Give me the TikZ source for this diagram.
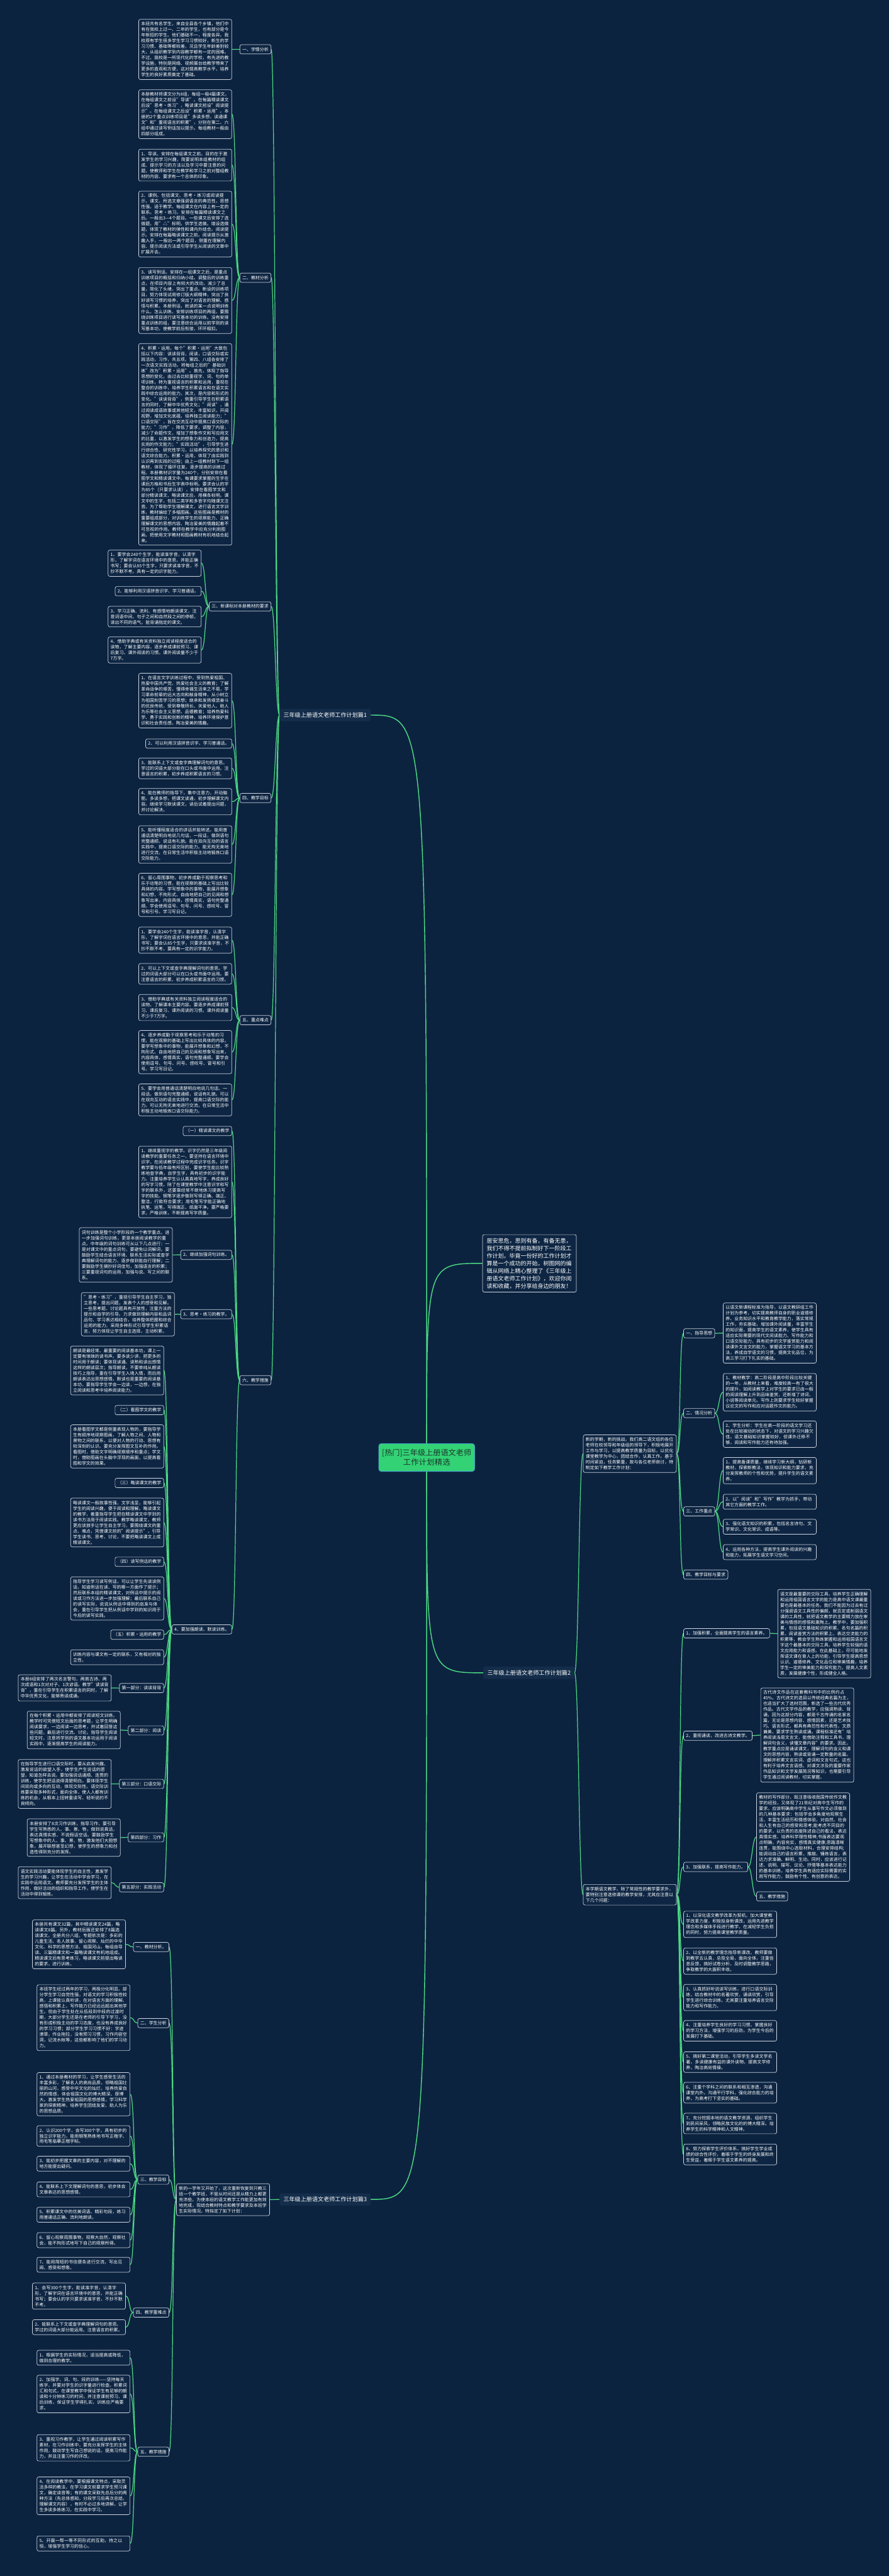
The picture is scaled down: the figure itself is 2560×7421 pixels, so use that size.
\documentclass[tikz,border=0pt]{standalone}
\usepackage{fontspec}
\setmainfont{Noto Sans CJK SC}
\XeTeXlinebreaklocale "zh"
\XeTeXlinebreakskip=0pt plus 0.5pt
\usetikzlibrary{calc}
\definecolor{bgc}{RGB}{12,35,64}
\definecolor{boxf}{RGB}{14,38,67}
\definecolor{topf}{RGB}{20,45,74}
\definecolor{bord}{RGB}{205,212,222}
\definecolor{lg}{RGB}{76,217,130}
\definecolor{ctrf}{RGB}{50,210,117}
\definecolor{ctrb}{RGB}{70,160,200}
\definecolor{ctrt}{RGB}{28,52,42}
\newcommand\bfnt{\fontsize{12.6pt}{16.3pt}\selectfont}
\newcommand\introfnt{\fontsize{16.3pt}{21.7pt}\selectfont}
\newcommand\topfnt{\fontsize{16.5pt}{20pt}\selectfont}
\newcommand\ctrfnt{\fontsize{22pt}{28pt}\selectfont}
\newcommand\lnk[2]{\draw[link] (#1.west) .. controls +(-12,0) and +(12,0) .. (#2.east);}
\newcommand\rnk[2]{\draw[link] (#1.east) .. controls +(12,0) and +(-12,0) .. (#2.west);}
\pgfdeclarelayer{bg}
\pgfsetlayers{bg,main}
\begin{document}
\begin{tikzpicture}[x=1pt,y=-1pt,
 blk/.style={draw=bord, fill=boxf, rounded corners=5pt, line width=1.3pt, text=white, font=\bfnt, text width=254pt, align=left, inner xsep=7pt, inner ysep=7.5pt},
 lbl/.style={draw=bord, fill=boxf, rounded corners=5pt, line width=1.3pt, text=white, font=\bfnt, inner xsep=7pt, inner ysep=7.5pt},
 toplbl/.style={fill=topf, rounded corners=5pt, text=white, font=\topfnt, inner xsep=11pt, inner ysep=10pt},
 link/.style={draw=lg, line width=2.2pt},
 clink/.style={draw=lg, line width=2.6pt},
 aNE/.style={anchor=north east}, aNW/.style={anchor=north west}]
\begin{pgfonlayer}{bg}
\fill[bgc] (0,0) rectangle (2560,7421);
\end{pgfonlayer}
\useasboundingbox (0,0) rectangle (2560,7421);

% ===== center =====
\node[fill=ctrf, draw=ctrb, line width=1.5pt, rounded corners=7pt, text=ctrt, font=\ctrfnt, text width=266pt, align=center, inner xsep=5pt, minimum height=80pt, anchor=north west] (C) at (1090,4158) {[热门]三年级上册语文老师\\工作计划精选};

\node[blk, aNW, font=\introfnt, text width=246pt, inner xsep=12pt, inner ysep=10pt] (I) at (1389,3556) {居安思危，思则有备，有备无患，我们不得不提前拟制好下一阶段工作计划。毕竟一份好的工作计划才算是一个成功的开始，树图网的编辑从网络上精心整理了《三年级上册语文老师工作计划》，欢迎你阅读和收藏，并分享给身边的朋友！};

\node[toplbl, anchor=west] (T1) at (805,2060) {三年级上册语文老师工作计划篇1};
\node[toplbl, anchor=west] (T2) at (1392,4819) {三年级上册语文老师工作计划篇2};
\node[toplbl, anchor=west] (T3) at (805,6336) {三年级上册语文老师工作计划篇3};

% ===== 篇1 =====
\node[lbl, aNE] (L1) at (781,128) {一、学情分析};
\node[blk, aNE] (b11) at (668,55) {本班共有名学生，来自全县各个乡镇，他们中有在我校上过一、二年的学生，也有部分是今年新招的学生。他们基础不一，程度各异。我校原有学生很多学生学习习惯较好，新生的学习习惯、基础等都较差，况且学生年龄差别较大，从组织教学到内容教学都有一定的困难。不过，我校是一所现代化的学校，有先进的教学设施，特别是网络、视频展台给教学带来了更多的直观和方便，这对提高教学水平，培养学生的良好素质奠定了基础。};

\node[lbl, aNE] (L2) at (781,786) {二、教材分析};
\node[blk, aNE] (b21) at (668,258) {本册教材将课文分为8组，每组一般4篇课文。在每组课文之前设"导读"。在每篇精读课文后设"思考·练习"，略读课文前设"阅读提示"。在每组课文之后设"积累·运用"。本册的2个重点训练项目是"多读多想，读通课文"和"重视语言的积累"，分别在第二、六组中通过读写例话加以提示。每组教材一般由四部分组成。};
\node[blk, aNE] (b22) at (668,429) {1、导读。安排在每组课文之前。目的在于激发学生的学习兴趣，简要说明本组教材的组成、提示学习的方法以及学习中要注意的问题，使教师和学生在教学和学习之前对整组教材的内容、要求有一个总体的印象。};
\node[blk, aNE] (b23) at (668,550) {2、课例。包括课文、思考·练习或阅读提示，课文。所选文章强调语言的典范性，思想性强，适于教学。每组课文在内容上有一定的联系。思考·练习。安排在每篇精读课文之后。一般出3—4个题目。一些课文后安排了选做题，用"△"标明，供学生选做。增设选做题，体现了教材的弹性和课内外结合。阅读提示。安排在每篇略读课文之前。阅读提示从激趣入手，一般出一两个题目，侧重在理解内容、提示阅读方法或引导学生从阅读的文章中扩展开去。};
\node[blk, aNE] (b24) at (668,770) {3、读写例话。安排在一组课文之后，是重点训练项目的概括和归纳小结。调整后的训练重点，在项目内容上有较大的改动，减少了总量，简化了头绪，突出了重点。新设的训练项目，努力体现试用修订版大纲精神，突出了良好读写习惯的培养，突出了对语言的理解、感悟与积累。本册例话，就读的某一点说明训练什么，怎么训练。安排训练项目的两组，要围绕训练项目进行读写基本功的训练。没有安排重点训练的组，要注意综合运用以前学到的读写基本功，使教学前后衔接，环环相扣。};
\node[blk, aNE] (b25) at (668,989) {4、积累·运用。每个"积累·运用"大致包括以下内容：读读背背，阅读，口语交际或实践活动，习作，共五项。第四、八组各安排了一次语文实践活动。将每组之后的"基础训练"改为"积累·运用"。首先，体现了指导思想的变化，由过去比较重视字、词、句的单项训练，转为重视语言的积累和运用，重视在整合的训练中，培养学生积累语言和在语文实践中综合运用的能力。其次，是内容和形式的变化。"读读背背"，侧重引导学生在积累语言的同时，了解中华优秀文化；"阅读"，通过阅读成语故事或其他短文，丰富知识，开阔视野，增加文化底蕴，培养独立阅读能力；"口语交际"，旨在交流互动中提高口语交际的能力；"习作"，降低了要求，调整了内容，减少了命题作文，增加了想象作文和写应用文的比重，以激发学生的想象力和创造力，提高实用的作文能力；"实践活动"，引导学生进行综合性、研究性学习，以培养探究的意识和语文综合能力。积累·运用，体现了由实践到认识再到实践的过程；由上一组教材到下一组教材，体现了循环往复、逐步提高的训练过程。本册教材识字量为240个，分别安排在看图学文和精读课文中。每课要求掌握的生字在课后方格和书后生字表中标明。要求会认的字为85个（只要求认读），安排在看图学文和部分精读课文、略读课文后，用横条标明。课文中的生字，包括二类字和多音字均随课文注音。为了帮助学生理解课文，进行语言文字训练，教材编绘了多幅图画。这些图画是教材的重要组成部分，对训练学生的观察能力、正确理解课文的思想内容、陶冶爱美的情趣起着不可忽视的作用。教师在教学中应充分利用图画，把使用文字教材和图画教材有机地结合起来。};

\node[lbl, aNE] (L3) at (781,1733) {三、新课标对本册教材的要求};
\node[blk, aNE] (b31) at (580,1584) {1、要学会240个生字，能读准字音，认清字形，了解字词在语言环境中的意思，并能正确书写；要会认85个生字，只要求读准字音，不抄不默不考。具有一定的识字能力。};
\node[lbl, aNE] (b32) at (580,1689) {2、能够利用汉语拼音识字、学习普通话。};
\node[blk, aNE] (b33) at (580,1746) {3、学习正确、流利、有感情地朗读课文，注意词语中间、句子之间和自然段之间的停顿，读出不同的语气。能背诵指定的课文。};
\node[blk, aNE] (b34) at (580,1834) {4、借助字典或有关资料独立阅读程度适合的读物，了解主要内容。逐步养成课前预习、课后复习、课外阅读的习惯。课外阅读量不少于7万字。};

\node[lbl, aNE] (L4) at (781,2285) {四、教学目标};
\node[blk, aNE] (b41) at (668,1939) {1、在语言文字训练过程中，受到热爱祖国、热爱中国共产党、热爱社会主义的教育；了解革命战争的艰苦，懂得幸福生活来之不易，学习革命前辈的远大志向和献身精神，从小树立为祖国刻苦学习的思想；继承和发扬艰苦奋斗的优良传统，受到尊敬师长、关爱他人、助人为乐等社会主义思想、品德教育；培养热爱科学、勇于实践和创新的精神，培养环境保护意识和社会责任感，陶冶爱美的情趣。};
\node[lbl, aNE] (b42) at (668,2128) {2、可以利用汉语拼音识字、学习普通话。};
\node[blk, aNE] (b43) at (668,2183) {3、能联系上下文或查字典理解词句的意思。学过的词语大部分能在口头或书面中运用。注意语言的积累，初步养成积累语言的习惯。};
\node[blk, aNE] (b44) at (668,2271) {4、能在教师的指导下，集中注意力，开动脑筋，多读多想，把课文读通，初步理解课文内容。继续学习默读课文，读后试着提出问题，并讨论解决。};
\node[blk, aNE] (b45) at (668,2378) {5、能听懂程度适合的讲话并能转述。能用普通话清楚明白地说几句话、一段话，做到语句完整通顺，说话有礼貌。能在双向互动的语言实践中，提高口语交际的能力。能无拘无束地进行交流，在日常生活中积极主动地锻炼口语交际能力。};
\node[blk, aNE] (b46) at (668,2515) {6、留心周围事物，初步养成勤于观察思考和乐于动笔的习惯，能在观察的基础上写出比较具体的内容。学写想象中的事物，能展开想象和幻想，不拘形式、自由地把自己的见闻和想象写出来，内容具体，感情真实，语句完整通顺。学会使用逗号、句号、问号、感叹号、冒号和引号。学习写日记。};

\node[lbl, aNE] (L5) at (781,2925) {五、重点难点};
\node[blk, aNE] (b51) at (668,2670) {1、要学会240个生字，能读准字音，认清字形，了解字词在语言环境中的意思，并能正确书写；要会认85个生字，只要求读准字音，不抄不默不考。要具有一定的识字能力。};
\node[blk, aNE] (b52) at (668,2775) {2、可以上下文或查字典理解词句的意思。学过的词语大部分可以在口头或书面中运用。要注意语言的积累，初步养成积累语言的习惯。};
\node[blk, aNE] (b53) at (668,2864) {3、借助字典或有关资料独立阅读程度适合的读物，了解课本主要内容。要逐步养成课前预习、课后复习、课外阅读的习惯。课外阅读量不少于7万字。};
\node[blk, aNE] (b54) at (668,2968) {4、逐步养成勤于观察思考和乐于动笔的习惯，能在观察的基础上写出比较具体的内容。要学写想象中的事物，能展开想象和幻想，不拘形式、自由地把自己的见闻和想象写出来，内容具体，感情真实，语句完整通顺。要学会使用逗号、句号、问号、感叹号、冒号和引号。学习写日记。};
\node[blk, aNE] (b55) at (668,3122) {5、要学会用普通话清楚明白地说几句话、一段话，做到语句完整通顺，说话有礼貌。可以在双向互动的语言实践中，提高口语交际的能力。可以无拘无束地进行交流，在日常生活中积极主动地锻炼口语交际能力。};

\node[lbl, aNE] (L6) at (781,3962) {六、教学措施};
\node[lbl, aNE] (c61) at (668,3244) {（一）精读课文的教学};
\node[blk, aNE] (c62) at (668,3301) {1、继续重视字的教学。识字仍然是三年级阅读教学的重要任务之一，要坚持在语言环境中识字，在阅读教学过程中完成识字任务。识字教学要与低年级有所区别，要使学生能比较熟练地查字典，自学生字，具有初步的识字能力。注重培养学生认认真真地写字，养成良好的写字习惯。除了在课堂教学中注意识字和写字的联系外，还要靠经常不断地练习提高写字的技能。钢笔字逐步做到写得正确、端正、整洁，行款符合要求；用毛笔写字能正确地执笔、运笔，写得端正、纸面干净。要严格要求，严格训练，不断提高写字质量。};
\node[lbl, aNE] (c63) at (668,3601) {2、继续加强词句训练。};
\node[blk, aNE] (c63a) at (497,3536) {词句训练是整个小学阶段的一个教学重点。进一步加强词句训练，更是本册阅读教学的重点。中年级的词句训练可从以下几点进行：一是对课文中的重点词句，要避免以词解词，要鼓励学生结合语言环境、联系生活实际或查字典理解词句的能力，逐步做到能自行理解；二要鼓励学生摘抄好词佳句，加强语言的积累；三要重视词句的运用，加强与说、写之间的联系。};
\node[lbl, aNE] (c64) at (668,3772) {3、思考·练习的教学。};
\node[blk, aNE] (c64a) at (503,3723) {"思考·练习"，重视引导学生自主学习，独立思考，提出问题，发表个人的感受和见解。一些思考题、讨论题具有开放性，注重方法的提示和自学的引导。力求做到理解内容和品词品句、学习表达相结合，培养整体把握和综合运用的能力。采用多种形式引导学生积累语言，努力体现让学生自主选择，主动积累。};
\node[lbl, aNE] (c65) at (668,4680) {4、要加强朗读、默读训练。};

\node[blk, aNE] (g1) at (472,3877) {朗读是最经常、最重要的阅读基本功，课上一定要有琅琅的读书声。要多读少讲，把更多的时间用于朗读；要体现读通、读熟和读出感情这样的朗读层次；指导朗读，不要单纯从朗读技巧上指导，重在引导学生入境入情，而后用朗读表达出思想感情。默读也是重要的阅读基本功，要指导学生学会一边读，一边想，在独立阅读和思考中培养阅读能力。};
\node[lbl, aNE] (g2) at (472,4048) {（二）看图学文的教学};
\node[blk, aNE] (g3) at (472,4104) {本册看图学文都是侧重表现人物的，要指导学生有顺序地观察图画，了解人物之间、人物和景物之间的联系，以便对人物的行动、思想有较深刻的认识。要充分发挥图文互补的作用。看图时，借助文字明确观察顺序和重点；学文时，借助图画在头脑中浮现的画面，以提高看图和学文的效果。};
\node[lbl, aNE] (g4) at (472,4258) {（三）略读课文的教学};
\node[blk, aNE] (g5) at (472,4315) {略读课文一般故事性强，文字浅显，能够引起学生的阅读兴趣，便于阅读和理解。略读课文的教学，着重指导学生把在精读课文中学到的读书方法用于阅读实践。教学略读课文，教师更应该放手让学生自主学习，要围绕课文的重点、难点，凭借课文前的"阅读提示"，引导学生读书、思考、讨论，不要把略读课文上成精读课文。};
\node[lbl, aNE] (g6) at (472,4485) {（四）读写例话的教学};
\node[blk, aNE] (g7) at (472,4542) {指导学生学习读写例话，可以让学生先读读例话，知道例话在读、写的哪一方面作了提示；然后联系本组的精读课文，对例话中提示的阅读或习作方法进一步加强理解；最后联系自己的读写实际，说说从例话中得到的启发与体会，重在引导学生把从例话中学到的知识用于今后的读写实践。};
\node[lbl, aNE] (g8) at (472,4695) {（五）积累·运用的教学};
\node[blk, aNE] (g9) at (472,4752) {训练内容与课文有一定的联系，又有相对的独立性。};
\node[lbl, aNE] (g10) at (472,4849) {第一部分：读读背背};
\node[blk, aNE] (g10a) at (321,4824) {本册8组安排了两次名言警句、两首古诗、两次成语和1次对对子、1次谚语。教学"读读背背"，重在引导学生在积累语言的同时，了解中华优秀文化，能够熟读成诵。};
\node[lbl, aNE] (g11) at (472,4971) {第二部分：阅读};
\node[blk, aNE] (g11a) at (347,4929) {在每个积累·运用中都安排了阅读短文训练。教学时可凭借短文后面的思考题，让学生明确阅读要求，一边阅读一边思考，并试着回答这些问题，最后进行交流、讨论。指导学生阅读短文时，注意将学到的语文基本功运用于阅读实践中，逐渐提高学生的阅读能力。};
\node[lbl, aNE] (g12) at (472,5125) {第三部分：口语交际};
\node[blk, aNE] (g12a) at (321,5068) {在指导学生进行口语交际时，要从启发兴趣、激发说话的欲望入手，使学生产生说话的愿望，知道怎样去说。要加强说话通顺、连贯的训练，使学生把话说得清楚明白。要体现学生间双向或多向的互动，体现交际性。语交际训练要采取多种形式，面向全体，使人人都有训练的机会，从根本上扭转重读写、轻听说的不良倾向。};
\node[lbl, aNE] (g13) at (472,5279) {第四部分：习作};
\node[blk, aNE] (g13a) at (347,5239) {本册安排了8次习作训练，指导习作，要引导学生写熟悉的人、事、景、物，做到说真话，表达真情实感，不说假话空话。要鼓励学生写想象中的人、事、景、物，激发他们大胆想象，展开联想甚至幻想，使学生的想象力和创造性得到充分的发挥。};
\node[lbl, aNE] (g14) at (472,5423) {第五部分：实践活动};
\node[blk, aNE] (g14a) at (321,5377) {语文实践活动要能体现学生的自主性，激发学生的学习兴趣，让学生在活动中学会学习，在实践中运用语文。教师要充分发挥学生的主体作用，做好活动的组织和指导工作，使学生在活动中得到锻炼。};

% ===== 篇3 =====
\node[blk, aNE] (P0) at (777,6290) {新的一学年又开始了，这次重新恢复到只教三班一个教学班，不管从时间还是从精力上都更充沛些。为使本班的语文教学工作能更加有效地完成，现结合教材特点和教学要求及本班学生实际情况，特拟定了如下计划：};
\node[lbl, aNE] (q1) at (487,5595) {一、教材分析。};
\node[blk, aNE] (q1a) at (362,5530) {本册共有课文32篇，其中精读课文24篇，略读课文8篇。另外，教材后面还安排了8篇选读课文。全册共分八组，专题依次是：多彩的儿童生活、名人故事、留心观察、灿烂的中华文化、科学的思想方法、祖国河山。每组由导读、三篇精课文和一篇略读课文有机地组成。精读课文后有思考练习，略读课文前提出略读的要求，进行训练。};
\node[lbl, aNE] (q2) at (487,5814) {二、学生分析};
\node[blk, aNE] (q2a) at (375,5717) {本班学生经过两年的学习，两极分化明显。部分学生学习自觉性强，对语文的学习积极性较高，上课能认真听讲，在对语言方面的理解、感悟和积累上，写作能力已经远远超出其他学生。但由于学生处在从低段到中段的过渡时期，大部分学生还是在老师的引导下学习，没有形成积极主动的学习态度，也没有养成良好的学习习惯；部分学生学习习惯不好：字迹潦草，作业拖拉，没有预习习惯，习作内容空洞，记流水帐等，这些都影响了他们的学习动力。};
\node[lbl, aNE] (q3) at (487,6265) {三、教学目标};
\node[blk, aNE] (q3a) at (375,5970) {1、通过本册教材的学习，让学生感受生活的丰富多彩，了解名人的高尚品质，领略祖国壮丽的山河，感受中华文化的灿烂，培养热爱自然的情感，体会祖国文化的博大精深、厚博大。激发学生热爱祖国的思想感情，学习科学家的探索精神，培养学生团结友爱、助人为乐的思想品质。};
\node[blk, aNE] (q3b) at (375,6123) {2、认识200个字，会写300个字，具有初步的独立识字能力。能用钢笔熟练地书写正楷字、用毛笔临摹正楷字帖。};
\node[blk, aNE] (q3c) at (375,6211) {3、能初步把握文章的主要内容，对不理解的地方能提出疑问。};
\node[blk, aNE] (q3d) at (375,6285) {4、能联系上下文理解词句的意思，初步体会文章表达的思想感情。};
\node[blk, aNE] (q3e) at (375,6358) {5、积累课文中的优美词语、精彩句段，练习用普通话正确、流利地朗读。};
\node[blk, aNE] (q3f) at (375,6431) {6、留心观察周围事物，观察大自然，观察社会，能不拘形式地写下自己的观察所得。};
\node[blk, aNE] (q3g) at (375,6502) {7、能用简短的书信便条进行交流，写出见闻、感受和想象。};
\node[lbl, aNE] (q4) at (487,6648) {四、教学重难点};
\node[blk, aNE] (q4a) at (362,6576) {1、会写300个生字，能读准字音，认清字形，了解字词在语言环境中的意思，并能正确书写；要会认的字只要求读准字音，不抄不默不考。};
\node[blk, aNE] (q4b) at (362,6682) {2、能联系上下文或查字典理解词句的意思。学过的词语大部分能运用。注意语言的积累。};
\node[lbl, aNE] (q5) at (487,7049) {五、教学措施};
\node[blk, aNE] (q5a) at (375,6770) {1、根据学生的实际情况，适当提高或降低，做到合理的教学。};
\node[blk, aNE] (q5b) at (375,6842) {2、加强字、词、句、段的训练——坚持每天练字，并要对学生的识字量进行检查。积累词汇和句式，在课堂教学中保证学生有足够的朗读和十分钟练习的时间，并注意课前预习、课后训练，保证学生学得扎实，训练应严格要求。};
\node[blk, aNE] (q5c) at (375,7013) {3、重视习作教学，让学生通过阅读积累写作素材，在习作训练中，要充分发挥学生的主体作用，鼓动学生写自己想说的话，提高习作能力，并且注重习作的评改。};
\node[blk, aNE] (q5d) at (375,7135) {4、在阅读教学中，要根据课文特点，采取灵活多样的教法，在学习课文前要求学生预习课文，确定读音等；有的课文采取先总后分的两种方法（先总体感知，分段学习后再次总结，理解课文内容），有时不必过多地讲解，让学生多读多练练习，在实践中学习。};
\node[blk, aNE] (q5e) at (375,7305) {5、开展一帮一等不同形式的互助，持之以恒，增强学生学习的信心。};

% ===== 篇2 =====
\node[blk, aNW] (N0) at (1679,4133) {新的学期，新的挑战。我们高二语文组的各位老师在校领导和年级组的领导下，积极地展开工作与学习，以提高教学质量为目标，以优化课堂教学为中心，团结合作，认真工作。基于时间紧迫，任务繁重，故与各位老师商讨，特制定如下教学工作计划：};
\node[lbl, aNW] (s1) at (1968,3827) {一、指导思想};
\node[blk, aNW] (s1a) at (2082,3753) {以语文新课程标准为指导，以语文教研组工作计划为参考，切实提高教师自身的职业道德修养、业务知识水平和教育教学能力，落实常规工作，夯实基础，增加课外阅读量，丰富学生的知识面，提高学生的语文素养，使学生具有适应实际需要的现代文阅读能力、写作能力和口语交际能力，具有初步的文学鉴赏能力和阅读课外文言文的能力，掌握语文学习的基本方法，养成自学语文的习惯，提高文化品位，为高三学习打下扎实的基础。};
\node[lbl, aNW] (s2) at (1968,4057) {二、情况分析};
\node[blk, aNW] (s2a) at (2082,3956) {1、教材教学：高二阶段是高中阶段比较关键的一年，从教材上来看，难度较高一有了很大的提升，如阅读教学上对学生的要求已由一般的阅读理解上升到品味鉴赏，还新增了诗词、小说等阅读单元。写作上则要求学生较好掌握议论文的写作和应对话题作文的能力。};
\node[blk, aNW] (s2b) at (2082,4093) {2、学生分析：学生在高一阶段的语文学习还处在比较被动的状态下，对语文的学习兴趣欠佳。语文基础知识掌握较好，但课外迁移不够，阅读和写作能力还有待加强。};
\node[lbl, aNW] (s3) at (1968,4340) {三、工作重点};
\node[blk, aNW] (s3a) at (2082,4198) {1、提高备课质量，继续学习新大纲，钻研新教材，探索新教法，体现知识和能力要求，充分发挥教师的个性和优势，提升学生的语文素养。};
\node[blk, aNW] (s3b) at (2082,4304) {2、以"阅读"和"写作"教学为抓手，带动其它方面的教学工作。};
\node[blk, aNW] (s3c) at (2082,4376) {3、强化语文知识的积累，包括名言诗句、文学常识、文化常识、成语等。};
\node[blk, aNW] (s3d) at (2082,4449) {4、运用各种方法，提高学生课外阅读的兴趣和能力，拓展学生语文学习空间。};
\node[lbl, aNW] (s4) at (1968,4522) {四、教学目标与要求};

\node[blk, aNW] (M0) at (1679,5428) {本学期语文教学，除了常规性的教学要求外，要特别注意选修课的教学安排，尤其应注意以下几个问题：};
\node[lbl, aNW] (m1) at (1968,4691) {1、加强积累，全面提高学生的语言素养。};
\node[blk, aNW] (m1a) at (2239,4578) {语文是最重要的交际工具，培养学生正确理解和运用祖国语言文字的能力是高中语文课最重要也是最基本的任务。我们不能因为过去有过分强调语文工具性的偏颇，就否定或削弱语文课的工具性，就把语文教学的主要精力放在审美与情感的感悟和熏陶上。教学中，要加强积累，包括语文基础知识的积累、名句名篇的积累、阅读鉴赏方法的积累上、表达交流能力的积累等，教会学生熟练掌握和运用祖国语言文字这个最基本的交际工具，培养学生较强的语文应用能力和语感。在此基础上，尽可能地发挥语文课在育人上的功能，引导学生提高思想认识、道德修养、文化品位和审美情趣，培养学生一定的审美能力和探究能力，提高人文素质，发展健康个性，形成健全人格。};
\node[lbl, aNW] (m2) at (1968,4986) {2、重视诵读，改进古诗文教学。};
\node[blk, aNW] (m2a) at (2190,4862) {古代诗文作品在这套教科书中的比例约占45\%。古代诗文的选目以传统经典名篇为主，也适当扩大了选材范围，新选了一些古代优秀作品。古代文学作品的教学，应强调熟读、背诵，因为这部分内容，都是千古传诵的名家名篇，无论是思想内容、感情因素，还是艺术技巧、语言形式，都具有典范性和代表性，文质兼美，要求学生熟读成诵。课程标准还有"培养阅读浅易文言文，能借助注释和工具书，理解词句含义，读懂文章内容"的要求。因此，教学重点应是诵读课文，理解词句的含义和课文的思想内容，熟读或背诵一定数量的名篇。理解并积累文言实词、虚词和文言句式，这也有利于培养文言语感。对课文涉及的重要作家作品知识和文学发展简况等知识，也需要引导学生通过阅读教材，切实掌握。};
\node[lbl, aNW] (m3) at (1968,5364) {3、加强联系，提高写作能力。};
\node[blk, aNW] (m3a) at (2178,5164) {教材的写作部分，既注意吸收我国传统作文教学的经验，又体现了21世纪对高中生写作的要求。应该明确高中学生从事写作文必须做到的几种基本要求：包括学会多角度地观察生活，丰富生活经历和情感体验，对自然、社会和人生有自己的感受和思考;能考虑不同目的的要求，以负责的态度陈述自己的看法，表达真情实感，培养科学理性精神;书面表达要观点明确，内容充实，感情真实健康;思路清晰连贯，能围绕中心选取材料，合理安排结构;能调动自己的语言积累，推敲、锤炼语言，表达力求准确、鲜明、生动。同时，应该进行记述、说明、描写、议论、抒情等基本表达能力的基本训练，培养学生具有适应实际需要的实用写作能力，鼓励有个性、有创意的表达。};
\node[lbl, aNW] (m3b) at (2178,5449) {五、教学措施};
\node[blk, aNW] (i1) at (1968,5505) {1、以深化语文教学改革为契机，加大课堂教学改革力度，积极投身新课改，运用先进教学理念和多媒体手段进行教学，在减轻学生负担的同时，努力提高课堂教学质量。};
\node[blk, aNW] (i2) at (1968,5611) {2、以全新的教学理念指导新课改，教师要做到教学五认真，总揽全局，面向全体，注重信息反馈，搞好试卷分析，及时调整教学思路，争取教学的大面积丰收。};
\node[blk, aNW] (i3) at (1968,5716) {3、认真抓好听说读写训练，进行口语交际训练，结合教材中的名著欣赏，诵读欣赏，引导学生进行综合训练，尤其要注重培养语言交际能力和写作能力。};
\node[blk, aNW] (i4) at (1968,5820) {4、注重培养学生良好的学习习惯，掌握良好的学习方法，增强学习的后劲，为学生今后的发展打下基础。};
\node[blk, aNW] (i5) at (1968,5910) {5、搞好第二课堂活动，引导学生多读文学名著，多读健康有益的课外读物，提高文学修养，陶冶高尚情操。};
\node[blk, aNW] (i6) at (1968,5998) {6、注重个学科之间的联系和相互渗透，沟通课堂内外。沟通平行学科，强化综合能力的培养，为高考打下坚实的基础。};
\node[blk, aNW] (i7) at (1968,6087) {7、充分挖掘本地的语文教学资源，组织学生到民间采风，领略民族文化的的博大精深。培养学生的科学精神和人文精神。};
\node[blk, aNW] (i8) at (1968,6176) {8、努力探索学生评价体系，搞好学生学业成绩的综合性评价，着眼于学生的终身发展和终生受益，着眼于学生语文素养的提高。};

% ===== links =====
\begin{pgfonlayer}{bg}
\draw[clink] (C.north) .. controls (C.north |- T1.east) .. (T1.east);
\draw[clink] (C.north) .. controls (C.north |- I.west) .. (I.west);
\draw[clink] (C.south) .. controls (C.south |- T2.west) .. (T2.west);
\draw[clink] (C.south) .. controls (C.south |- T3.east) .. (T3.east);
\foreach \c in {L1,L2,L3,L4,L5,L6} {\lnk{T1}{\c}}
\lnk{L1}{b11}
\foreach \c in {b21,b22,b23,b24,b25} {\lnk{L2}{\c}}
\foreach \c in {b31,b32,b33,b34} {\lnk{L3}{\c}}
\foreach \c in {b41,b42,b43,b44,b45,b46} {\lnk{L4}{\c}}
\foreach \c in {b51,b52,b53,b54,b55} {\lnk{L5}{\c}}
\foreach \c in {c61,c62,c63,c64,c65} {\lnk{L6}{\c}}
\lnk{c63}{c63a}
\lnk{c64}{c64a}
\foreach \c in {g1,g2,g3,g4,g5,g6,g7,g8,g9,g10,g11,g12,g13,g14} {\lnk{c65}{\c}}
\lnk{g10}{g10a}
\lnk{g11}{g11a}
\lnk{g12}{g12a}
\lnk{g13}{g13a}
\lnk{g14}{g14a}
\lnk{T3}{P0}
\foreach \c in {q1,q2,q3,q4,q5} {\lnk{P0}{\c}}
\lnk{q1}{q1a}
\lnk{q2}{q2a}
\foreach \c in {q3a,q3b,q3c,q3d,q3e,q3f,q3g} {\lnk{q3}{\c}}
\foreach \c in {q4a,q4b} {\lnk{q4}{\c}}
\foreach \c in {q5a,q5b,q5c,q5d,q5e} {\lnk{q5}{\c}}
\rnk{T2}{N0}
\rnk{T2}{M0}
\foreach \c in {s1,s2,s3,s4} {\rnk{N0}{\c}}
\rnk{s1}{s1a}
\foreach \c in {s2a,s2b} {\rnk{s2}{\c}}
\foreach \c in {s3a,s3b,s3c,s3d} {\rnk{s3}{\c}}
\foreach \c in {m1,m2,m3,i1,i2,i3,i4,i5,i6,i7,i8} {\rnk{M0}{\c}}
\rnk{m1}{m1a}
\rnk{m2}{m2a}
\rnk{m3}{m3a}
\rnk{m3}{m3b}
\end{pgfonlayer}
\end{tikzpicture}
\end{document}
